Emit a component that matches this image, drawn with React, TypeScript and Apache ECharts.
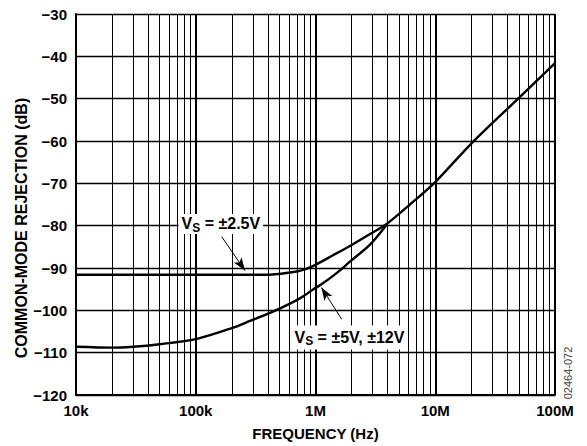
import React, { useEffect, useRef } from "react";
import * as echarts from "echarts";

const FONT = "'Liberation Sans', Arial, Helvetica, sans-serif";

// x tick labels by decade
const xTickValues = [1e4, 1e5, 1e6, 1e7, 1e8];
const xTickLabels = ["10k", "100k", "1M", "10M", "100M"];

// VS = ±2.5V curve
const freq25 = [1e4, 2e4, 5e4, 1e5, 2e5, 3e5, 4e5, 5e5, 6e5, 7.4e5, 9.6e5, 1.4e6, 1.94e6, 2.85e6, 3.93e6, 6.15e6, 1e7, 2e7, 5e7, 1e8];
const cmr25 = [-91.6, -91.6, -91.6, -91.6, -91.6, -91.6, -91.6, -91.4, -91.1, -90.7, -89.5, -87.0, -84.8, -82.0, -79.6, -75.0, -69.7, -60.6, -49.8, -41.6];

// VS = ±5V, ±12V curve
const freq5 = [1e4, 2e4, 3e4, 5e4, 1e5, 2e5, 2.84e5, 4.17e5, 6.12e5, 7.9e5, 9.6e5, 1.09e6, 1.5e6, 1.94e6, 2.85e6, 3.93e6];
const cmr5 = [-108.6, -108.8, -108.6, -108.0, -106.8, -104.2, -102.5, -100.6, -98.4, -96.7, -95.0, -94.1, -91.2, -88.5, -84.5, -79.8];

// minor vertical grid values (2..9 in each decade)
const minorMultipliers = [2, 3, 4, 5, 6, 7, 8, 9];
const decades = [1e4, 1e5, 1e6, 1e7];

export default function App() {
  const ref = useRef<HTMLDivElement>(null);
  useEffect(() => {
    if (!ref.current) return;
    const chart = echarts.init(ref.current, undefined, { renderer: "svg" });
    const minorLines: any[] = [];
    decades.forEach((d) => minorMultipliers.forEach((m) => minorLines.push({ xAxis: d * m })));
    const d25 = freq25.map((f, i) => [f, cmr25[i]]);
    const d5 = freq5.map((f, i) => [f, cmr5[i]]);
    const labelMap: Record<string, string> = {};
    xTickValues.forEach((v, i) => (labelMap[String(v)] = xTickLabels[i]));
    const rich = {
      v: { fontSize: 16, fontWeight: "bold", color: "#000", fontFamily: FONT, lineHeight: 20, verticalAlign: "middle" },
      s: { fontSize: 12, fontWeight: "bold", color: "#000", fontFamily: FONT, lineHeight: 12, verticalAlign: "bottom" },
    };
    chart.setOption({
      animation: false,
      grid: { left: 76, right: 32, top: 14, bottom: 48, containLabel: false },
      xAxis: {
        type: "log",
        logBase: 10,
        min: 1e4,
        max: 1e8,
        axisLine: { show: true, lineStyle: { color: "#000", width: 2 } },
        axisTick: { show: false },
        minorTick: { show: false },
        axisLabel: {
          color: "#000",
          fontWeight: "bold",
          fontSize: 15,
          fontFamily: FONT,
          margin: 8,
          formatter: (v: number) => labelMap[String(v)] ?? "",
        },
        splitLine: { show: true, lineStyle: { color: "#000", width: 2 } },
        name: "FREQUENCY (Hz)",
        nameLocation: "middle",
        nameGap: 31,
        nameTextStyle: { color: "#000", fontWeight: "bold", fontSize: 15, fontFamily: FONT },
      },
      yAxis: {
        type: "value",
        min: -120,
        max: -30,
        interval: 10,
        axisLine: { show: true, lineStyle: { color: "#000", width: 2 } },
        axisTick: { show: false },
        axisLabel: {
          color: "#000",
          fontWeight: "bold",
          fontSize: 15,
          fontFamily: FONT,
          margin: 9,
          formatter: (v: number) => String(v).replace("-", "\u2212"),
        },
        splitLine: { show: true, lineStyle: { color: "#000", width: 1.3 } },
      },
      graphic: [
        {
          type: "text",
          x: 21,
          y: 228,
          rotation: Math.PI / 2,
          style: {
            text: "COMMON-MODE REJECTION (dB)",
            fontSize: 16,
            fontWeight: "bold",
            fontFamily: FONT,
            fill: "#000",
            align: "center",
            verticalAlign: "middle",
          },
        },
        {
          type: "text",
          x: 568,
          y: 373,
          rotation: Math.PI / 2,
          style: {
            text: "02464-072",
            fontSize: 11,
            fontFamily: FONT,
            fill: "#444",
            align: "center",
            verticalAlign: "middle",
          },
        },
      ],
      series: [
        {
          type: "line",
          data: [],
          silent: true,
          markLine: {
            silent: true,
            symbol: ["none", "none"],
            label: { show: false },
            lineStyle: { color: "#000", width: 1, type: "solid" },
            data: minorLines,
          },
        },
        {
          name: "VS = ±2.5V",
          type: "line",
          data: d25,
          smooth: 0.3,
          showSymbol: false,
          lineStyle: { color: "#000", width: 2.4 },
        },
        {
          name: "VS = ±5V, ±12V",
          type: "line",
          data: d5,
          smooth: 0.3,
          showSymbol: false,
          lineStyle: { color: "#000", width: 2.4 },
        },
        {
          type: "line",
          data: [],
          silent: true,
          markLine: {
            silent: true,
            symbol: ["none", "arrow"],
            symbolSize: [7, 13],
            label: { show: false },
            lineStyle: { color: "#000", width: 1, type: "solid" },
            data: [
              [{ coord: [164700, -82.6] }, { coord: [257800, -90.6] }],
              [{ coord: [1655000, -102.1] }, { coord: [1120000, -94.6] }],
            ],
          },
          markPoint: {
            silent: true,
            symbol: "rect",
            symbolSize: 1,
            itemStyle: { color: "rgba(0,0,0,0)" },
            data: [
              {
                coord: [162000, -79.6],
                label: {
                  show: true,
                  position: "inside",
                  formatter: "{v|V}{s|S}{v| = ±2.5V}",
                  backgroundColor: "#fff",
                  padding: [0, 3],
                  rich,
                },
              },
              {
                coord: [1920000, -106.4],
                label: {
                  show: true,
                  position: "inside",
                  formatter: "{v|V}{s|S}{v| = ±5V, ±12V}",
                  backgroundColor: "#fff",
                  padding: [2, 3],
                  rich,
                },
              },
            ],
          },
        },
      ],
    });
    return () => chart.dispose();
  }, []);
  return <div ref={ref} style={{ position: "absolute", left: 0, top: 0, width: 587, height: 446 }} />;
}
